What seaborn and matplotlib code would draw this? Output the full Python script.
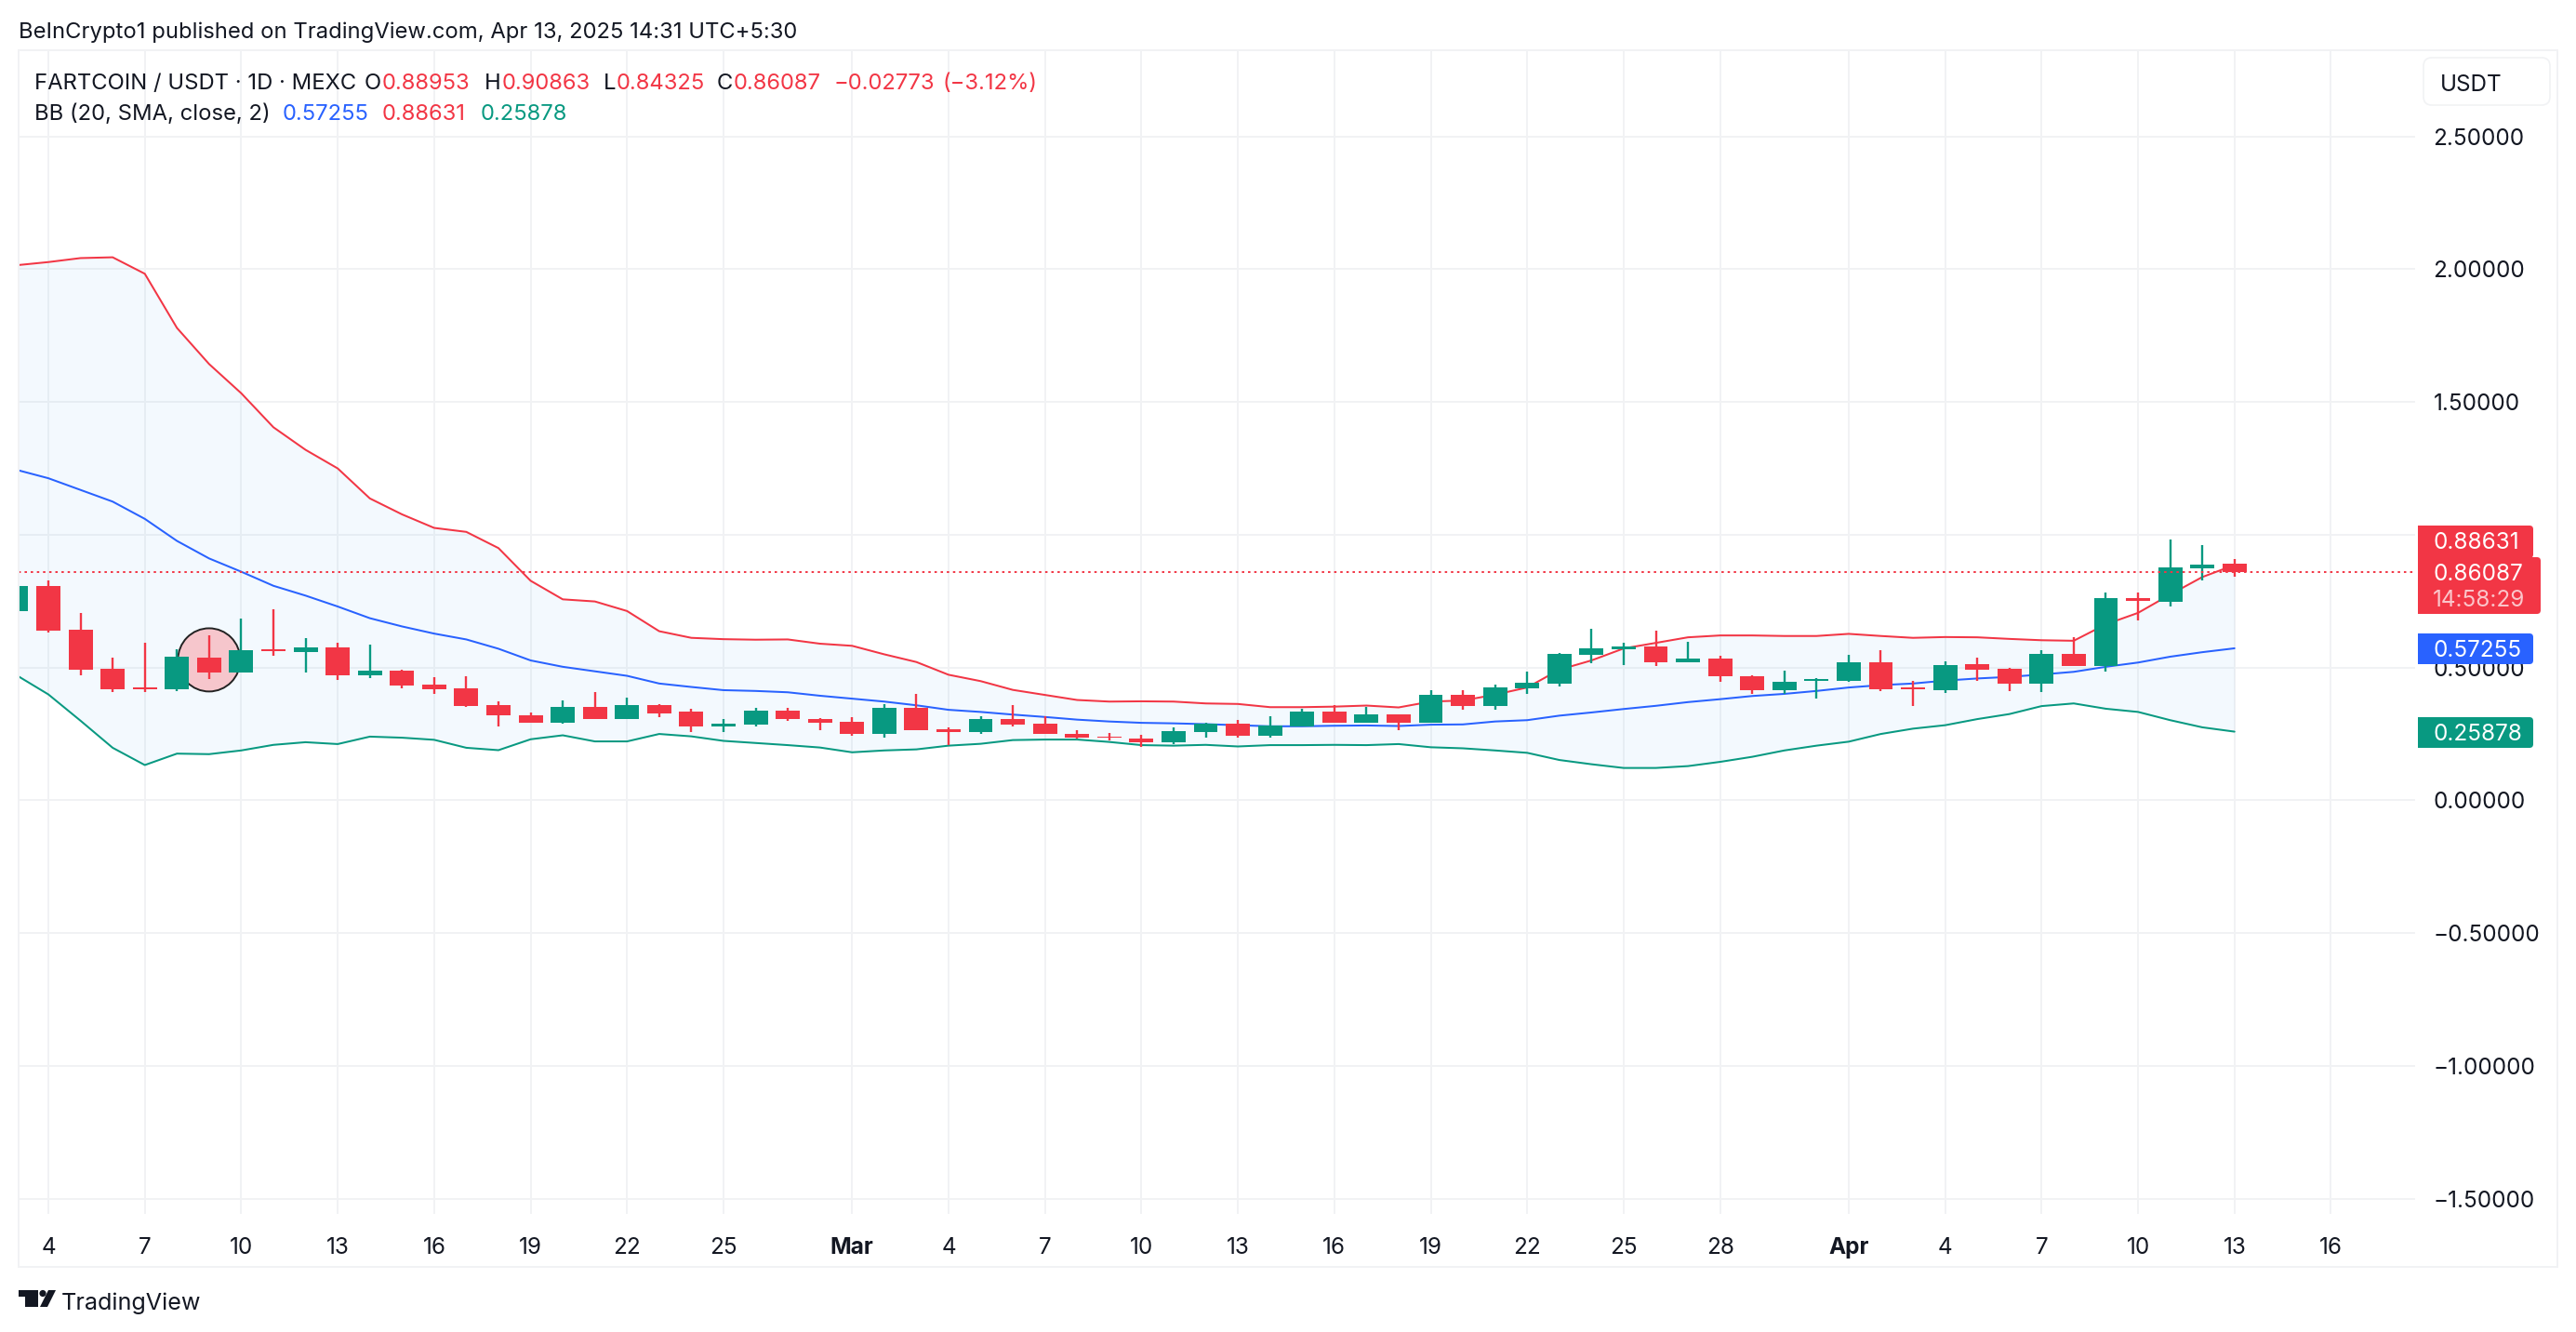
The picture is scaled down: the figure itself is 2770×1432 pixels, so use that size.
import matplotlib
matplotlib.use("Agg")
import matplotlib.pyplot as plt
from matplotlib.patches import Ellipse, FancyBboxPatch, Rectangle, Polygon, Circle
import numpy as np
import pandas as pd
import seaborn as sns

days = list(range(-1, 69))  # -1 = Feb 3, 0 = Feb 4, ... 68 = Apr 13
opens = [.713,.806,.642,.495,.426,.420,.537,.483,.569,.559,.576,.472,.488,.436,.422,.359,.321,.294,.352,.308,
         .359,.335,.277,.287,.338,.307,.297,.249,.349,.269,.256,.307,.290,.251,.241,.234,.217,.259,.290,.242,
         .280,.335,.294,.325,.294,.398,.357,.422,.441,.548,.569,.579,.520,.534,.468,.415,.450,.450,.520,.426,
         .415,.513,.495,.440,.551,.506,.761,.747,.872,.88953]
highs = [.806,.829,.707,.537,.593,.568,.620,.684,.719,.611,.595,.586,.491,.463,.467,.372,.330,.377,.408,.386,
         .363,.344,.306,.349,.349,.311,.314,.363,.401,.275,.318,.359,.318,.265,.254,.248,.275,.293,.304,.318,
         .345,.359,.352,.325,.415,.415,.435,.485,.555,.645,.593,.639,.597,.544,.471,.488,.461,.548,.565,.450,
         .523,.537,.499,.565,.614,.782,.782,.984,.960,.90863]
lows = [.713,.633,.472,.409,.409,.413,.458,.483,.545,.481,.455,.461,.422,.402,.352,.280,.293,.290,.305,.305,
        .312,.259,.259,.277,.300,.263,.245,.235,.266,.207,.249,.280,.249,.231,.224,.200,.210,.238,.238,.238,
        .280,.294,.294,.266,.294,.340,.343,.401,.430,.516,.509,.506,.520,.447,.401,.401,.384,.447,.412,.356,
        .405,.450,.412,.408,.506,.485,.677,.729,.827,.84325]
closes = [.806,.640,.493,.420,.420,.541,.483,.565,.563,.576,.472,.488,.434,.420,.356,.319,.294,.352,.305,.359,
          .329,.277,.290,.338,.305,.294,.249,.349,.266,.256,.307,.287,.249,.235,.235,.217,.262,.290,.242,.283,
          .335,.294,.325,.294,.398,.357,.426,.443,.551,.572,.579,.520,.534,.468,.415,.447,.457,.520,.419,.419,
          .509,.492,.440,.551,.506,.761,.750,.876,.886,.86087]
upper = [2.015,2.027,2.042,2.045,1.983,1.779,1.643,1.533,1.405,1.320,1.250,1.137,1.077,1.026,1.011,.950,.827,.757,.749,.713,
         .637,.612,.607,.605,.606,.590,.582,.550,.521,.473,.449,.416,.397,.378,.372,.373,.372,.365,.363,.351,
         .351,.353,.357,.350,.372,.376,.398,.425,.492,.527,.572,.593,.614,.621,.621,.619,.619,.627,.619,.612,
         .615,.614,.608,.603,.601,.663,.706,.775,.841,.88631]
basis = [1.245,1.213,1.169,1.125,1.060,.977,.911,.861,.808,.771,.730,.686,.655,.628,.606,.571,.527,.503,.486,.469,
         .440,.427,.415,.412,.407,.394,.383,.372,.358,.341,.333,.323,.314,.304,.297,.292,.290,.287,.283,.279,
         .279,.281,.282,.280,.285,.286,.297,.302,.319,.331,.344,.356,.370,.381,.393,.401,.412,.425,.434,.440,
         .451,.459,.465,.474,.484,.503,.519,.541,.558,.57255]
lower = [.472,.399,.300,.198,.133,.176,.174,.188,.209,.219,.212,.240,.236,.228,.198,.189,.230,.245,.222,.222,
         .250,.241,.224,.216,.208,.199,.181,.188,.192,.206,.213,.227,.229,.229,.220,.208,.206,.209,.203,.208,
         .208,.209,.208,.212,.200,.196,.188,.179,.152,.136,.122,.122,.129,.145,.164,.188,.206,.221,.250,.270,
         .283,.306,.325,.355,.365,.345,.333,.302,.275,.25878]
x_ticks = [0,3,6,9,12,15,18,21,25,28,31,34,37,40,43,46,49,52,56,59,62,65,68,71]
x_labels = ["4","7","10","13","16","19","22","25","Mar","4","7","10","13","16","19","22","25","28","Apr","4","7","10","13","16"]
y_ticks = [2.5,2.0,1.5,1.0,0.5,0.0,-0.5,-1.0,-1.5]
# the 1.00000 label sits fully behind the red price tags in the reference, so it is not shown
y_labels = ["2.50000","2.00000","1.50000","","0.50000","0.00000","\u22120.50000","\u22121.00000","\u22121.50000"]
last_close = 0.86087

RED, GREEN, BLUE = "#F23645", "#089981", "#2962FF"
GRID = "#F1F2F4"
INK = "#131722"
W, H = 2770, 1432

sns.set_theme(style="white")
plt.rcParams["font.family"] = ["Inter", "DejaVu Sans"]
fig = plt.figure(figsize=(W/100, H/100), dpi=100, facecolor="white")
L, R, T, B = 20, 2597, 54, 1305
ax = fig.add_axes([L/W, 1-B/H, (R-L)/W, (B-T)/H])

df = pd.DataFrame(dict(day=days, upper=upper, basis=basis, lower=lower))
ax.fill_between(df["day"], df["upper"], df["lower"], color="#2196F3", alpha=0.05, lw=0, zorder=1)
for col, c in [("upper", RED), ("basis", BLUE), ("lower", GREEN)]:
    sns.lineplot(data=df, x="day", y=col, color=c, lw=1.45, ax=ax, zorder=2, errorbar=None, estimator=None)

ax.add_patch(Ellipse((5, 0.529), 1.94, 0.238, fc="#F6C6CC", ec="#222222", lw=1.4, zorder=3))

d = np.array(days); o = np.array(opens); c = np.array(closes)
cols = [GREEN if cc >= oo else RED for oo, cc in zip(opens, closes)]
ax.vlines(d, lows, highs, colors=cols, lw=1.7, zorder=4)
ax.bar(d, np.maximum(np.abs(c-o), 0.003), bottom=np.minimum(o, c), width=0.75, color=cols, lw=0, zorder=5)
ax.plot([-1.5, 74], [last_close, last_close], color=RED, lw=1.4, ls=(0, (1.3, 2.1)), dash_capstyle="butt", zorder=6)

ax.set_xlim((L-52)/34.57, (R-52)/34.57)
ax.set_ylim((860.45-B)/285.5, (860.45-T)/285.5)
ax.set_xlabel(""); ax.set_ylabel("")
ax.set_xticks(x_ticks); ax.set_xticklabels(x_labels, fontsize=17.5, color=INK)
for t in ax.get_xticklabels():
    if t.get_text() in ("Mar", "Apr"):
        t.set_fontweight("bold")
ax.yaxis.tick_right()
ax.set_yticks(y_ticks); ax.set_yticklabels(y_labels, fontsize=17.5, color=INK)
ax.tick_params(axis="x", length=0, pad=18)
ax.tick_params(axis="y", length=0, pad=14)
ax.grid(True, color=GRID, lw=1.4)
ax.set_axisbelow(True)
for s in ax.spines.values():
    s.set_visible(False)

# overlay in pixel coordinates
ov = fig.add_axes([0, 0, 1, 1], facecolor="none")
ov.set_xlim(0, W); ov.set_ylim(H, 0); ov.axis("off")
ov.add_patch(Rectangle((20, 54), 2730, 1308, fc="none", ec=GRID, lw=1.4))
ov.add_patch(FancyBboxPatch((2606, 62), 136, 51, boxstyle="round,pad=0,rounding_size=9", fc="white", ec=GRID, lw=1.2))

def tx(x, y, s, color=INK, size=17.15, **kw):
    ov.text(x, y + 3, s, color=color, fontsize=size, va="center", ha=kw.pop("ha", "left"), **kw)

tx(2624, 88, "USDT", size=17.5)
tx(20, 32, "BeInCrypto1 published on TradingView.com, Apr 13, 2025 14:31 UTC+5:30")
tx(37, 87, "FARTCOIN / USDT \u00b7 1D \u00b7 MEXC")
for x, s, col in [(392,"O",INK),(411,"0.88953",RED),(521,"H",INK),(540,"0.90863",RED),(649,"L",INK),(663,"0.84325",RED),
                  (771,"C",INK),(789,"0.86087",RED),(897,"\u22120.02773",RED),(1014,"(\u22123.12%)",RED)]:
    tx(x, 87, s, col)
tx(37, 120, "BB (20, SMA, close, 2)")
for x, s, col in [(304,"0.57255",BLUE),(411,"0.88631",RED),(517,"0.25878",GREEN)]:
    tx(x, 120, s, col)

def box(x0, y0, x1, y1, col):
    ov.add_patch(FancyBboxPatch((x0, y0), x1-x0, y1-y0, boxstyle="round,pad=0,rounding_size=4", fc=col, ec="none", zorder=5))
    ov.add_patch(Rectangle((x0, y0), 8, y1-y0, fc=col, ec="none", zorder=5))

box(2600, 565, 2724, 600, RED)
box(2600, 599, 2732, 660, RED)
box(2600, 681, 2724, 714, BLUE)
box(2600, 771, 2724, 804, GREEN)
for y, s, col in [(584,"0.88631","white"),(617,"0.86087","white"),(645,"14:58:29","#FBC5CA"),(699,"0.57255","white"),(789,"0.25878","white")]:
    ov.text(2616, y, s, color=col, fontsize=17.5, va="center", zorder=6)

# TradingView mark
ov.add_patch(Polygon([(20,1387),(41,1387),(41,1405),(27,1405),(27,1394),(20,1394)], fc=INK, ec="none"))
ov.add_patch(Circle((46,1390.5), 3.6, fc=INK, ec="none"))
ov.add_patch(Polygon([(52,1387),(60,1387),(51,1405),(43,1405)], fc=INK, ec="none"))
tx(66, 1398, "TradingView", size=18.1)

fig.savefig("out.png", dpi=100)
